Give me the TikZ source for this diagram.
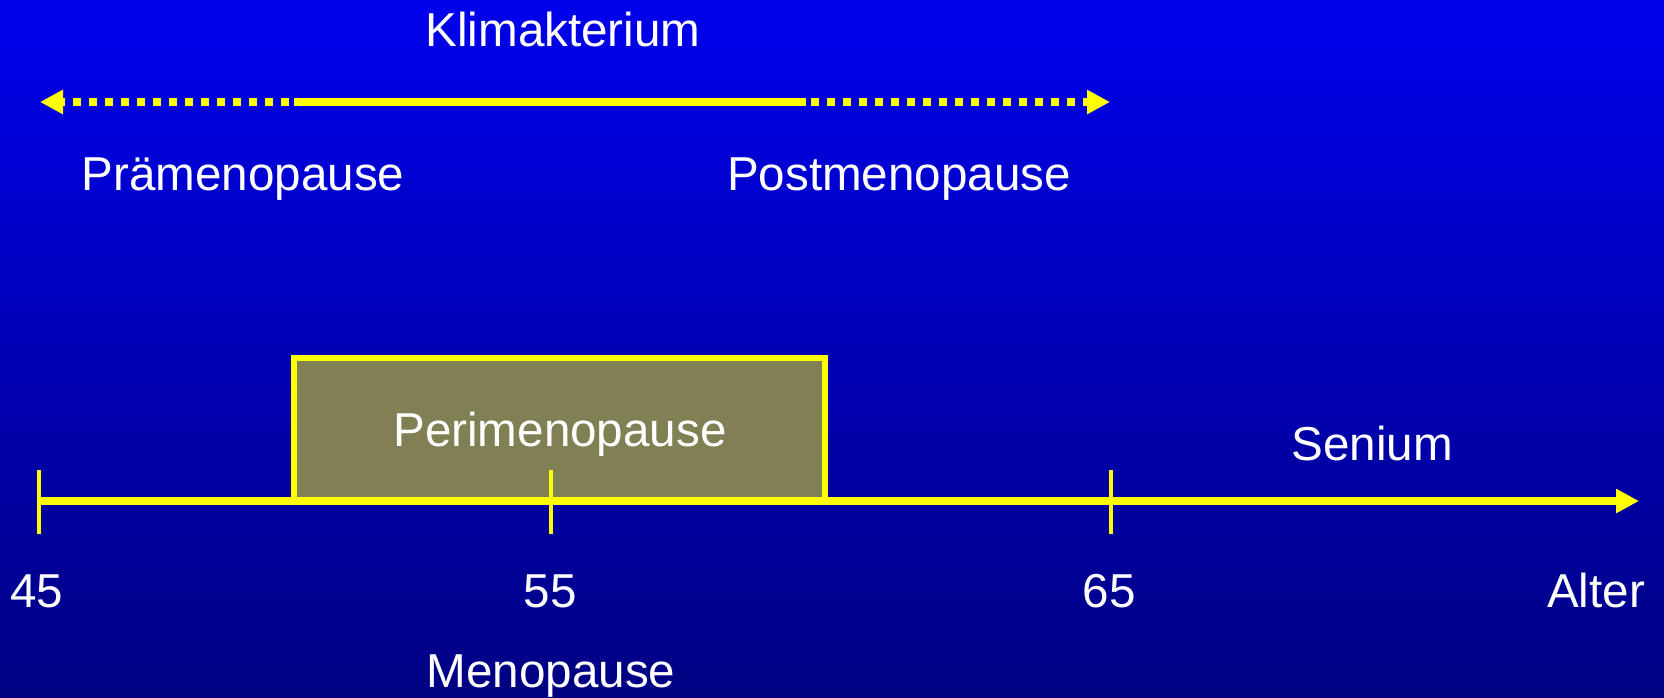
\documentclass[tikz,border=0pt]{standalone}
\usepackage{fontspec}
\setmainfont{Liberation Sans}
\usetikzlibrary{arrows.meta}
\definecolor{bgtop}{RGB}{0,0,236}
\definecolor{bgbot}{RGB}{0,0,130}
\definecolor{peri}{RGB}{128,128,84}
\definecolor{ylw}{RGB}{255,255,0}
\tikzset{
  lbl/.style={text=white, inner sep=0pt, anchor=base, font=\fontsize{47.6}{57}\selectfont},
  solidline/.style={draw=ylw, line width=8pt},
  dotline/.style={draw=ylw, line width=8pt, dash pattern=on 8pt off 8pt, dash phase=11pt},
  tickline/.style={draw=ylw, line width=4pt},
  tip/.style={-{Triangle[length=23pt,width=23pt]}},
  perbox/.style={draw=ylw, line width=6pt, fill=peri, minimum width=531pt, minimum height=143pt, inner sep=0pt}
}
\begin{document}
\begin{tikzpicture}[x=1pt,y=-1pt]
\useasboundingbox (0,0) rectangle (1664,697);
\shade[top color=bgtop, bottom color=bgbot] (0,0) rectangle (1664,697);

% top arrow
\coordinate (kl) at (40,102);
\coordinate (ks1) at (294,102);
\coordinate (ks2) at (806,102);
\coordinate (kr) at (1110,102);
\draw[dotline, tip] (ks1) -- (kl);
\draw[dotline, tip] (ks2) -- (kr);
\draw[solidline] (ks1) -- (ks2);

% box
\node[perbox] (box) at (559.5,429.5) {};

% axis
\coordinate (a0) at (38.5,501);
\coordinate (aend) at (1639,501);
\draw[solidline, tip] (a0) -- (aend);
\coordinate (t45a) at (38.5,470); \coordinate (t45b) at (38.5,534);
\coordinate (t55a) at (551,470);  \coordinate (t55b) at (551,534);
\coordinate (t65a) at (1111,470); \coordinate (t65b) at (1111,534);
\draw[tickline] (t45a) -- (t45b);
\draw[tickline] (t55a) -- (t55b);
\draw[tickline] (t65a) -- (t65b);

% labels
\node[lbl] (klim) at (563,46) {Klimakterium};
\node[lbl] (prae) at (243,190) {Prämenopause};
\node[lbl] (post) at (899,190) {Postmenopause};
\node[lbl] (perit) at (560,446) {Perimenopause};
\node[lbl] (sen) at (1372,460) {Senium};
\node[lbl] (n45) at (37,607) {45};
\node[lbl] (n55) at (550,607) {55};
\node[lbl] (n65) at (1109,607) {65};
\node[lbl] (alt) at (1596,607) {Alter};
\node[lbl] (meno) at (551,687) {Menopause};
\end{tikzpicture}
\end{document}
